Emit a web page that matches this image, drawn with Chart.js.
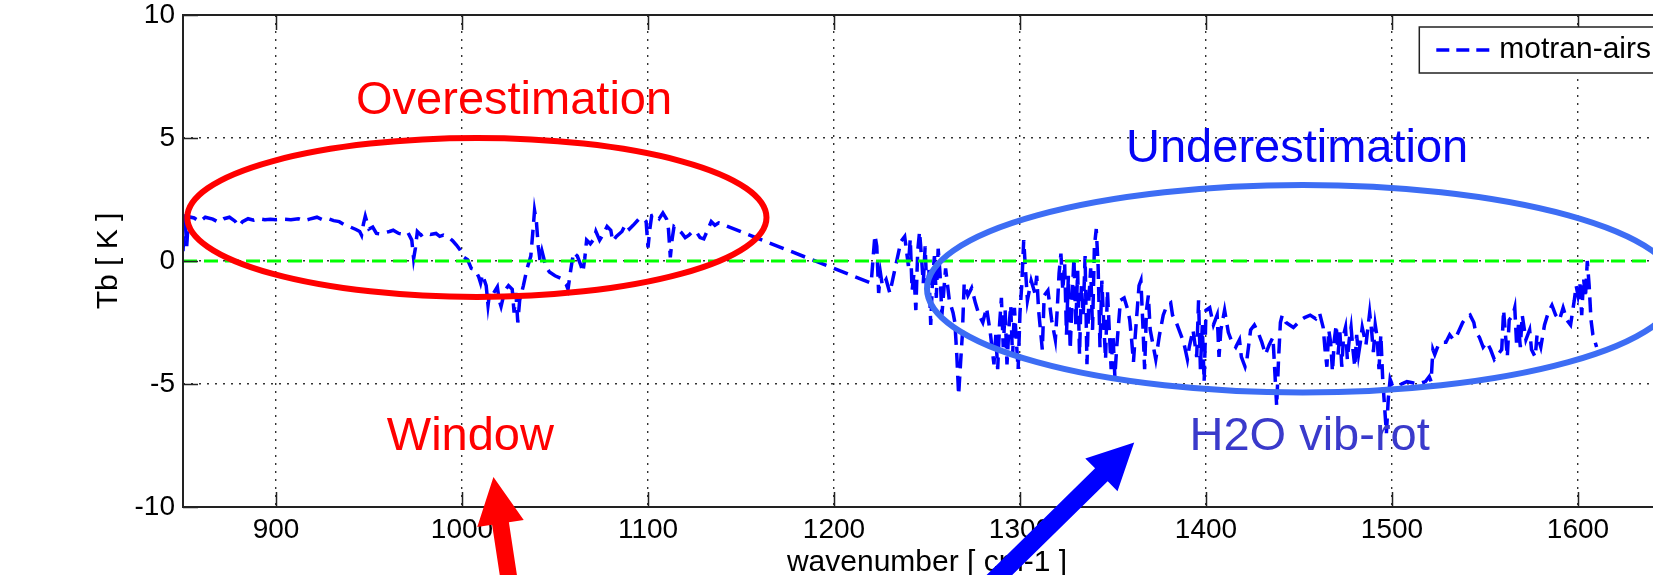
<!DOCTYPE html>
<html>
<head>
<meta charset="utf-8">
<title>motran-airs Tb</title>
<script src="https://cdn.jsdelivr.net/npm/chart.js@4.4.0/dist/chart.umd.min.js"></script>
<style>
  html, body { margin: 0; padding: 0; background: #fff; overflow: hidden; }
  #wrap { width: 1653px; height: 575px; overflow: hidden; }
</style>
</head>
<body>
<div id="wrap"><canvas id="tbChart" width="1700" height="575"></canvas></div>
<script>
// datos: diferencia de Tb [K] por numero de onda [cm-1]
const wavenumber = [
  850, 851, 852, 853, 856, 859, 862, 866, 869, 872,
  875, 878, 880, 882, 885, 888, 891, 894, 897, 900,
  904, 908, 912, 915, 918, 922, 925, 928, 931, 934,
  937, 940, 943, 945, 946, 947, 948, 949, 950, 952,
  954, 956, 958, 961, 963, 966, 969, 971, 973, 974,
  975, 976, 978, 980, 983, 986, 988, 990, 993, 995,
  997, 999, 1001, 1003, 1005, 1007, 1009, 1010, 1011, 1013,
  1014, 1015, 1017, 1019, 1020, 1021, 1023, 1025, 1027, 1028,
  1029, 1030, 1031, 1033, 1035, 1037, 1038, 1039, 1040, 1041,
  1042, 1043, 1045, 1047, 1050, 1053, 1056, 1057, 1058, 1059,
  1060, 1062, 1064, 1065, 1066, 1067, 1069, 1071, 1072, 1074,
  1076, 1078, 1080, 1081, 1083, 1086, 1088, 1090, 1092, 1095,
  1097, 1099, 1100, 1101, 1102, 1104, 1106, 1108, 1110, 1111,
  1112, 1113, 1114, 1116, 1118, 1120, 1122, 1124, 1126, 1128,
  1130, 1132, 1134, 1136, 1138, 1220, 1221, 1222, 1223, 1224,
  1225, 1226, 1228, 1230, 1236, 1238, 1239, 1240, 1241, 1242,
  1243, 1244, 1245, 1246, 1247, 1248, 1249, 1250, 1251, 1252,
  1253, 1254, 1255, 1256, 1257, 1258, 1260, 1262, 1264, 1265,
  1266, 1267, 1268, 1269, 1270, 1272, 1274, 1276, 1278, 1280,
  1282, 1284, 1286, 1287, 1288, 1289, 1290, 1291, 1292, 1293,
  1294, 1295, 1296, 1297, 1298, 1299, 1300, 1301, 1302, 1303,
  1304, 1306, 1308, 1309, 1310, 1312, 1313, 1315, 1317, 1319,
  1320, 1321, 1322, 1323, 1324, 1325, 1326, 1327, 1328, 1329,
  1330, 1331, 1332, 1333, 1334, 1335, 1336, 1337, 1338, 1339,
  1340, 1341, 1342, 1343, 1344, 1345, 1346, 1347, 1348, 1349,
  1350, 1351, 1352, 1354, 1356, 1358, 1359, 1360, 1361, 1362,
  1364, 1365, 1366, 1367, 1368, 1369, 1370, 1372, 1373, 1375,
  1377, 1379, 1381, 1382, 1384, 1386, 1388, 1390, 1391, 1393,
  1395, 1396, 1397, 1398, 1399, 1400, 1402, 1404, 1406, 1407,
  1408, 1410, 1412, 1414, 1416, 1418, 1419, 1421, 1422, 1423,
  1424, 1426, 1428, 1430, 1432, 1434, 1436, 1437, 1438, 1439,
  1440, 1441, 1443, 1445, 1447, 1449, 1451, 1453, 1456, 1459,
  1461, 1463, 1464, 1465, 1466, 1467, 1468, 1469, 1470, 1471,
  1472, 1473, 1474, 1475, 1476, 1477, 1478, 1479, 1480, 1481,
  1482, 1483, 1484, 1486, 1488, 1489, 1490, 1491, 1492, 1493,
  1494, 1495, 1496, 1497, 1498, 1499, 1500, 1502, 1505, 1508,
  1511, 1514, 1518, 1520, 1521, 1522, 1523, 1525, 1527, 1529,
  1531, 1533, 1535, 1538, 1540, 1542, 1544, 1545, 1547, 1549,
  1551, 1553, 1555, 1557, 1559, 1560, 1561, 1562, 1563, 1565,
  1566, 1567, 1568, 1569, 1570, 1572, 1574, 1575, 1577, 1578,
  1580, 1582, 1584, 1586, 1588, 1590, 1592, 1594, 1596, 1598,
  1599, 1600, 1601, 1602, 1603, 1604, 1605, 1606, 1607, 1608,
  1610
];
const tbBias = [
  0.4, 1.9, 0.6, 1.8, 1.75, 1.6, 1.78, 1.7, 1.58, 1.72,
  1.78, 1.62, 1.42, 1.6, 1.72, 1.66, 1.72, 1.68, 1.7, 1.68,
  1.7, 1.68, 1.72, 1.64, 1.7, 1.78, 1.68, 1.72, 1.64, 1.6,
  1.46, 1.38, 1.28, 1.2, 1.05, 1.5, 1.82, 1.55, 1.3, 1.38,
  1.12, 1.1, 1.14, 1.2, 1.25, 1.12, 1.08, 1.15, 0.85, 0.1,
  0.55, 1.2, 1.05, 1.15, 1.08, 1.12, 1.0, 1.05, 0.95, 0.82,
  0.65, 0.45, 0.15, 0.05, -0.3, -0.35, -0.65, -0.9, -0.55, -1.0,
  -1.8, -1.2, -1.3, -1.05, -1.6, -1.85, -1.2, -1.0, -1.15, -2.1,
  -1.3, -2.5, -1.6, -1.0, -0.3, 0.2, 1.1, 2.05, 1.6, 0.6,
  0.0, 0.4, -0.2, -0.45, -0.6, -0.7, -0.95, -1.15, -0.6, -0.1,
  0.35, 0.2, -0.2, -0.45, 0.1, 0.85, 0.7, 0.9, 1.2, 0.85,
  1.1, 1.4, 1.25, 0.8, 1.0, 1.2, 1.5, 1.3, 1.45, 1.7,
  1.75, 1.6, 0.55, 1.3, 1.85, 1.9, 1.72, 1.95, 1.7, 1.3,
  0.15, 0.9, 1.4, 1.3, 1.15, 0.95, 1.05, 1.2, 1.18, 0.95,
  0.9, 1.25, 1.6, 1.45, 1.55, -0.9, 0.1, 1.05, 0.6, -1.3,
  -0.5, -1.0, -0.75, -1.3, 0.8, 1.0, 0.4, -0.2, 0.9, -1.2,
  -0.5, -2.0, 0.4, 1.2, 0.2, -0.9, 0.6, -1.4, -0.3, -2.6,
  -0.7, 0.2, -1.5, 0.5, -0.5, -2.2, -0.3, -1.6, -2.1, -2.5,
  -3.8, -5.45, -4.2, -3.0, -0.9, -1.4, -1.1, -1.7, -2.2, -2.5,
  -1.9, -2.9, -4.2, -3.0, -4.4, -2.6, -1.5, -3.5, -2.0, -4.2,
  -2.8, -1.8, -3.9, -1.9, -3.2, -4.4, -2.1, -0.9, 0.85, -0.4,
  -1.6, -0.8, -1.3, -0.6, -2.0, -3.6, -1.4, -1.2, -2.4, -3.2,
  -2.0, -0.5, 0.3, -1.2, -0.1, -3.0, -0.6, -3.6, -1.5, 0.1,
  -2.6, -0.4, -3.8, -1.0, -2.2, 0.2, -4.2, -1.6, -0.3, -2.8,
  0.6, 1.3, -0.2, -3.5, -0.8, -2.5, -4.0, -1.2, -2.8, -4.4,
  -3.0, -4.7, -3.5, -1.6, -1.5, -2.0, -2.4, -3.2, -4.1, -3.0,
  -1.0, -0.8, -2.5, -4.4, -2.0, -1.4, -2.8, -3.6, -4.0, -3.0,
  -2.2, -1.8, -1.7, -2.2, -2.5, -2.9, -3.3, -4.0, -3.5, -2.8,
  -3.9, -1.6, -4.4, -2.6, -4.9, -2.0, -1.9, -2.6, -2.2, -3.9,
  -2.8, -2.0, -2.9, -3.3, -3.5, -3.2, -3.9, -4.3, -4.0, -3.4,
  -2.8, -2.6, -2.9, -3.3, -3.8, -3.4, -3.1, -4.5, -5.9, -4.0,
  -2.5, -2.2, -2.5, -2.6, -2.7, -2.55, -2.4, -2.3, -2.2, -2.35,
  -2.1, -2.7, -3.6, -4.3, -2.8, -3.3, -4.5, -3.2, -2.6, -3.8,
  -2.9, -4.3, -3.0, -2.7, -4.0, -3.2, -2.7, -3.6, -4.3, -3.0,
  -3.8, -3.3, -2.7, -3.4, -2.1, -2.8, -3.7, -2.6, -3.1, -4.4,
  -3.0, -4.8, -5.9, -7.0, -5.6, -4.8, -5.0, -4.9, -5.0, -4.9,
  -4.95, -5.0, -4.9, -4.7, -4.9, -3.6, -3.8, -3.4, -3.3, -3.3,
  -3.0, -3.2, -3.0, -2.5, -2.3, -2.2, -2.5, -2.9, -3.1, -3.5,
  -3.3, -3.6, -4.0, -3.8, -3.6, -2.0, -3.0, -3.9, -2.4, -2.2,
  -1.9, -3.4, -2.6, -3.5, -2.2, -3.2, -2.8, -3.6, -3.9, -3.0,
  -3.5, -2.6, -2.1, -1.8, -2.2, -2.4, -1.9, -2.4, -2.6, -1.6,
  -1.0, -1.4, -0.9, -2.2, -0.7, -1.5, 0.0, -1.0, -2.4, -3.0,
  -3.5
];
// linea de referencia en cero
const zeroX = [850, 1650];
const zeroY = [0, 0];

// ejes
const xTicks = [900, 1000, 1100, 1200, 1300, 1400, 1500, 1600];
const yTicks = [-10, -5, 0, 5, 10];
const seriesName = 'motran-airs';

// anotaciones (posiciones en unidades de datos)
const ellipses = [
  { cx: 1008, cy: 1.77, rx: 155.7, ry: 3.23, color: '#ff0000' },
  { cx: 1452, cy: -1.13, rx: 202, ry: 4.22, color: '#3d6df4' }
];
const notes = [
  { text: 'Overestimation', x: 1028, y: 5.98, color: '#ff0000' },
  { text: 'Underestimation', x: 1449, y: 4.03, color: '#0505f5' },
  { text: 'Window', x: 1004.5, y: -7.67, color: '#ff0000' },
  { text: 'H2O vib-rot', x: 1455.7, y: -7.67, color: '#3a3acb' }
];
const arrows = [
  { from: [1029, -14.8], to: [1016.9, -8.78], color: '#ff0000', shaft: 17, head: 47 },
  { from: [1277, -13.65], to: [1361.4, -7.38], color: '#0000ff', shaft: 18, head: 46 }
];

const FONT = '"Liberation Sans", Arial, Helvetica, sans-serif';

function drawArrow(ctx, x0, y0, x1, y1, color, shaftW, headW) {
    const len = Math.hypot(x1 - x0, y1 - y0);
    const ux = (x1 - x0) / len, uy = (y1 - y0) / len;
    const nx = -uy, ny = ux;
    const headL = headW;
    const bx = x1 - ux * headL, by = y1 - uy * headL;
    ctx.fillStyle = color;
    ctx.beginPath();
    ctx.moveTo(x0 + nx * shaftW / 2, y0 + ny * shaftW / 2);
    ctx.lineTo(bx + nx * shaftW / 2, by + ny * shaftW / 2);
    ctx.lineTo(bx + nx * headW / 2, by + ny * headW / 2);
    ctx.lineTo(x1, y1);
    ctx.lineTo(bx - nx * headW / 2, by - ny * headW / 2);
    ctx.lineTo(bx - nx * shaftW / 2, by - ny * shaftW / 2);
    ctx.lineTo(x0 - nx * shaftW / 2, y0 - ny * shaftW / 2);
    ctx.closePath();
    ctx.fill();
}

// marco, marcas hacia dentro, leyenda y anotaciones
const decorPlugin = {
    id: 'decor',
    afterDraw(chart) {
        const { ctx, chartArea: a, scales: { x, y } } = chart;
        const tick = 15;
        ctx.save();

        // marcas hacia dentro
        ctx.strokeStyle = '#222';
        ctx.lineWidth = 1.5;
        ctx.beginPath();
        xTicks.forEach(v => {
            const px = Math.round(x.getPixelForValue(v)) + 0.5;
            ctx.moveTo(px, a.bottom); ctx.lineTo(px, a.bottom - tick);
            ctx.moveTo(px, a.top); ctx.lineTo(px, a.top + tick);
        });
        yTicks.forEach(v => {
            const py = Math.round(y.getPixelForValue(v)) + 0.5;
            ctx.moveTo(a.left, py); ctx.lineTo(a.left + tick, py);
            ctx.moveTo(a.right, py); ctx.lineTo(a.right - tick, py);
        });
        ctx.stroke();

        // marco
        ctx.lineWidth = 2;
        ctx.strokeRect(a.left, a.top, a.right - a.left, a.bottom - a.top);

        // leyenda
        const ds = chart.data.datasets[1];
        ctx.font = '30px ' + FONT;
        const tw = ctx.measureText(ds.label).width;
        const boxR = a.right - 8, boxT = a.top + 12, boxH = 46;
        const boxW = 17 + 55 + 8 + tw + 12;
        const boxL = boxR - boxW;
        ctx.fillStyle = '#fff';
        ctx.fillRect(boxL, boxT, boxW, boxH);
        ctx.lineWidth = 1.5;
        ctx.strokeStyle = '#222';
        ctx.strokeRect(boxL, boxT, boxW, boxH);
        const ly = boxT + boxH / 2;
        ctx.strokeStyle = ds.borderColor;
        ctx.lineWidth = ds.borderWidth;
        ctx.setLineDash([13, 7]);
        ctx.beginPath();
        ctx.moveTo(boxL + 17, ly); ctx.lineTo(boxL + 17 + 55, ly);
        ctx.stroke();
        ctx.setLineDash([]);
        ctx.fillStyle = '#000';
        ctx.textAlign = 'left';
        ctx.textBaseline = 'middle';
        ctx.fillText(ds.label, boxL + 80, ly);

        // elipses
        ctx.lineWidth = 6;
        ellipses.forEach(e => {
            const cx = x.getPixelForValue(e.cx), cy = y.getPixelForValue(e.cy);
            const rx = x.getPixelForValue(e.cx + e.rx) - cx;
            const ry = cy - y.getPixelForValue(e.cy + e.ry);
            ctx.strokeStyle = e.color;
            ctx.beginPath();
            ctx.ellipse(cx, cy, rx, ry, 0, 0, Math.PI * 2);
            ctx.stroke();
        });

        // textos
        ctx.font = '47px ' + FONT;
        ctx.textAlign = 'center';
        ctx.textBaseline = 'alphabetic';
        notes.forEach(n => {
            ctx.fillStyle = n.color;
            ctx.fillText(n.text, x.getPixelForValue(n.x), y.getPixelForValue(n.y));
        });

        // flechas
        arrows.forEach(ar => {
            drawArrow(ctx,
                x.getPixelForValue(ar.from[0]), y.getPixelForValue(ar.from[1]),
                x.getPixelForValue(ar.to[0]), y.getPixelForValue(ar.to[1]),
                ar.color, ar.shaft, ar.head);
        });

        ctx.restore();
    }
};

const ctx = document.getElementById('tbChart').getContext('2d');
const chart = new Chart(ctx, {
    type: 'line',
    data: {
        datasets: [{
            label: 'zero',
            data: zeroX.map((v, i) => ({ x: v, y: zeroY[i] })),
            borderColor: '#00ff00',
            borderWidth: 3,
            borderDash: [14, 7],
            pointRadius: 0,
            tension: 0
        }, {
            label: seriesName,
            data: wavenumber.map((v, i) => ({ x: v, y: tbBias[i] })),
            borderColor: '#0000ff',
            borderWidth: 3.5,
            borderDash: [15, 8],
            pointRadius: 0,
            tension: 0
        }]
    },
    options: {
        responsive: false,
        animation: false,
        events: [],
        layout: { padding: { top: 15, right: 29, left: 0, bottom: 0 } },
        plugins: {
            legend: { display: false },
            tooltip: { enabled: false }
        },
        scales: {
            x: {
                type: 'linear',
                min: 850,
                max: 1650,
                afterBuildTicks: s => { s.ticks = xTicks.map(v => ({ value: v })); },
                afterFit: s => { s.height = 68; s.paddingLeft = 0; s.paddingRight = 0; },
                grid: { color: '#333', lineWidth: 1.4, drawTicks: false },
                border: { display: false, dash: [2, 6] },
                ticks: {
                    color: '#000',
                    padding: 9,
                    maxRotation: 0,
                    callback: v => String(v),
                    font: { family: FONT, size: 28, lineHeight: 1 }
                },
                title: {
                    display: true,
                    text: 'wavenumber [ cm-1 ]',
                    color: '#000',
                    padding: { top: 0, bottom: -3 },
                    font: { family: FONT, size: 30, lineHeight: 1 }
                }
            },
            y: {
                min: -10,
                max: 10,
                afterBuildTicks: s => { s.ticks = yTicks.map(v => ({ value: v })); },
                afterFit: s => { s.width = 183; s.paddingTop = 0; s.paddingBottom = 0; },
                grid: { color: '#333', lineWidth: 1.4, drawTicks: false },
                border: { display: false, dash: [2, 6] },
                ticks: {
                    color: '#000',
                    padding: 8,
                    font: { family: FONT, size: 28, lineHeight: 1 }
                },
                title: {
                    display: true,
                    text: 'Tb [ K ]',
                    color: '#000',
                    padding: { top: 94, bottom: 0 },
                    font: { family: FONT, size: 30, lineHeight: 1 }
                }
            }
        }
    },
    plugins: [decorPlugin]
});
</script>
</body>
</html>
